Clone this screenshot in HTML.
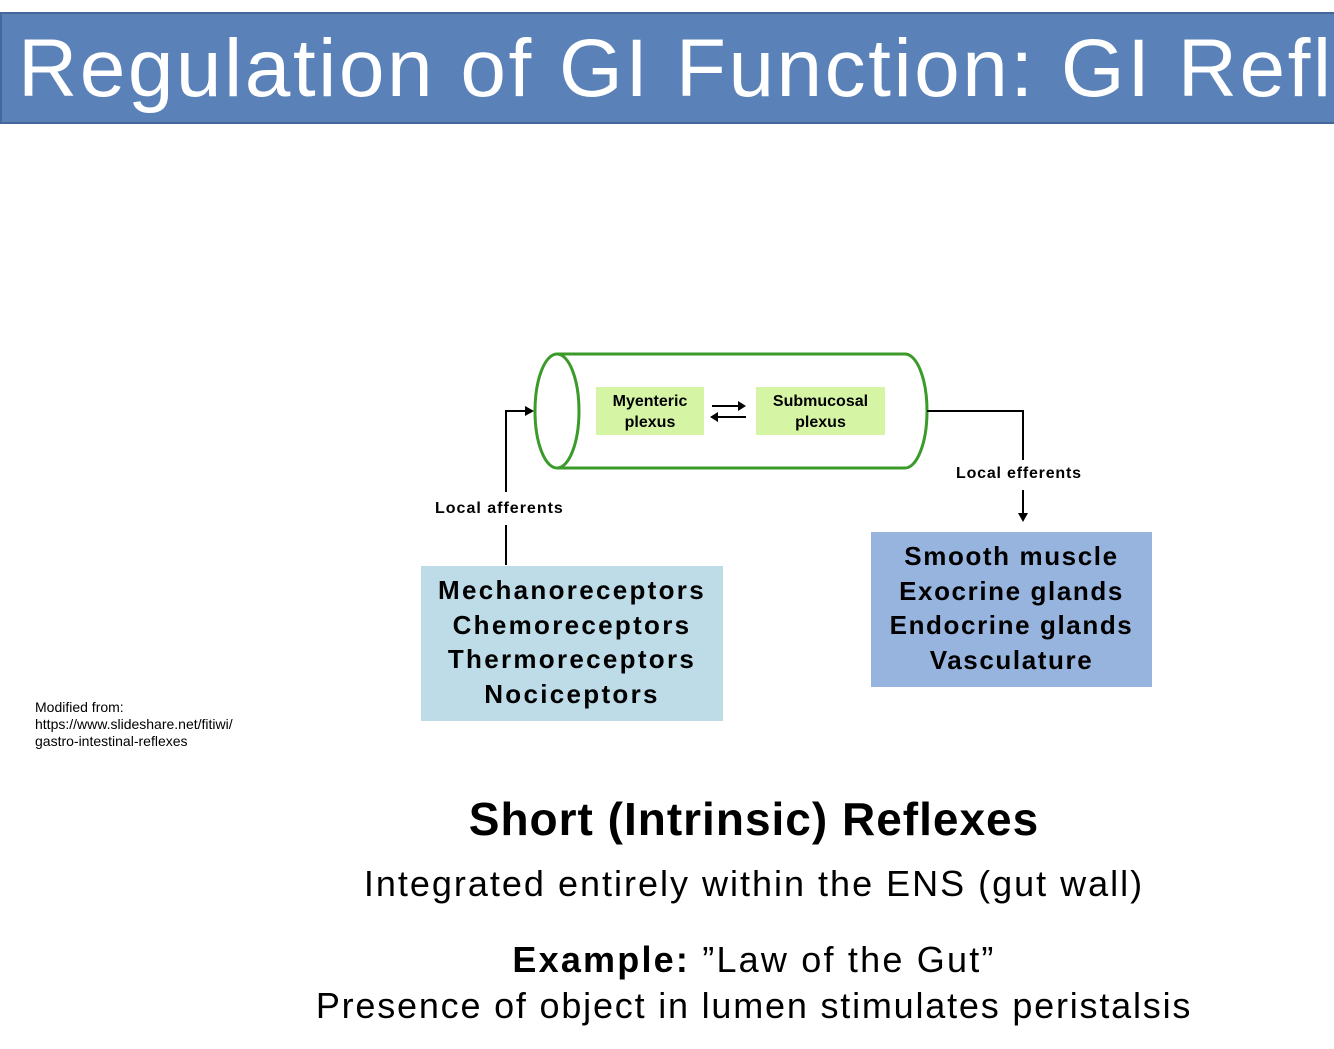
<!DOCTYPE html>
<html><head><style>
body{margin:0;width:1334px;height:1049px;background:#fff;position:relative;overflow:hidden;font-family:"Liberation Sans",sans-serif}
.a{position:absolute;white-space:nowrap}
</style></head><body>
<div class="a" style="left:0;top:12px;width:1334px;height:112px;background:#5a82b9;border:2px solid #46679a;border-right:none;box-sizing:border-box;overflow:hidden">
<div class="a" style="left:16px;top:8px;font-size:82px;color:#fff;letter-spacing:2.5px">Regulation of GI Function: GI Reflexes</div>
</div>

<svg class="a" style="left:0;top:0" width="1334" height="1049">
<g fill="none" stroke="#3a9a2a" stroke-width="3">
<path d="M557,354 L905,354 A22,57 0 0 1 905,468 L557,468"/>
<ellipse cx="557" cy="411" rx="22" ry="57"/>
</g>
<rect x="596" y="387" width="108" height="48" fill="#d5f5a5"/>
<rect x="756" y="387" width="129" height="48" fill="#d5f5a5"/>
<g stroke="#000" stroke-width="2" fill="none">
<path d="M712,406 L740,406"/><path d="M718,417 L746,417"/>
<path d="M506,565 L506,525"/><path d="M506,492 L506,411 L526,411"/>
<path d="M927,411 L1023,411 L1023,460"/><path d="M1023,490 L1023,514"/>
</g>
<g fill="#000">
<path d="M746,406 L738,401 L738,411Z"/><path d="M710,417 L718,412 L718,422Z"/>
<path d="M534,411 L525,406 L525,416Z"/><path d="M1023,522 L1018,513 L1028,513Z"/>
</g>
</svg>
<div class="a" style="left:596px;top:391px;width:108px;text-align:center;font-size:16px;font-weight:bold;line-height:21px">Myenteric<br>plexus</div>
<div class="a" style="left:756px;top:391px;width:129px;text-align:center;font-size:16px;font-weight:bold;line-height:21px">Submucosal<br>plexus</div>
<div class="a" style="left:435px;top:500px;font-size:16px;font-weight:bold;letter-spacing:1px">Local afferents</div>
<div class="a" style="left:956px;top:465px;font-size:16px;font-weight:bold;letter-spacing:0.8px">Local efferents</div>

<div class="a" style="left:421px;top:566px;width:302px;height:155px;background:#bddce8;text-align:center;font-size:26px;font-weight:bold;line-height:34.5px;padding-top:7px;box-sizing:border-box;letter-spacing:2.3px">Mechanoreceptors<br>Chemoreceptors<br>Thermoreceptors<br>Nociceptors</div>
<div class="a" style="left:871px;top:532px;width:281px;height:155px;background:#97b4df;text-align:center;font-size:26px;font-weight:bold;line-height:34.5px;padding-top:7px;box-sizing:border-box;letter-spacing:1.6px">Smooth muscle<br>Exocrine glands<br>Endocrine glands<br>Vasculature</div>

<div class="a" style="left:35px;top:699px;font-size:14px;line-height:17px">Modified from:<br>https://www.slideshare.net/fitiwi/<br>gastro-intestinal-reflexes</div>

<div class="a" style="left:0;width:1508px;top:792px;text-align:center;font-size:46px;font-weight:bold;letter-spacing:1px">Short (Intrinsic) Reflexes</div>
<div class="a" style="left:0;width:1508px;top:863px;text-align:center;font-size:36px;letter-spacing:2px">Integrated entirely within the ENS (gut wall)</div>
<div class="a" style="left:0;width:1508px;top:939px;text-align:center;font-size:36px;letter-spacing:2.2px"><b>Example:</b> ”Law of the Gut”</div>
<div class="a" style="left:0;width:1508px;top:985px;text-align:center;font-size:36px;letter-spacing:1.8px">Presence of object in lumen stimulates peristalsis</div>
</body></html>
